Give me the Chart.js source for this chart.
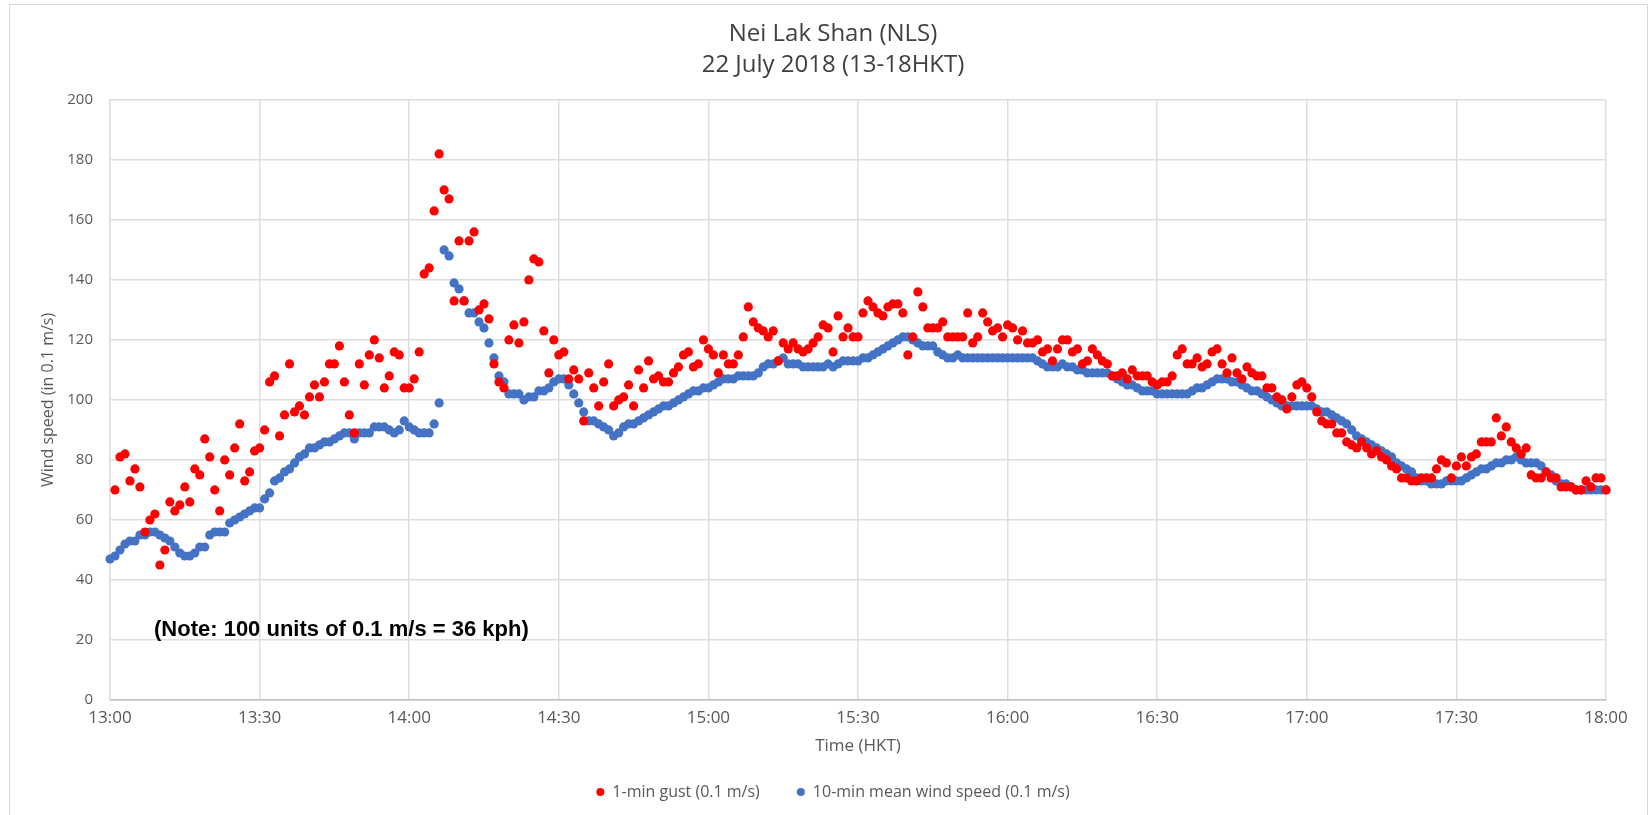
<!DOCTYPE html>
<html>
<head>
<meta charset="utf-8">
<title>Nei Lak Shan (NLS) wind</title>
<script src="https://cdn.jsdelivr.net/npm/chart.js@4.4.1/dist/chart.umd.min.js"></script>
<style>
  html, body { margin: 0; padding: 0; background: #fff; }
  #wrap { position: relative; width: 1652px; height: 815px; }
</style>
</head>
<body>
<div id="wrap"><canvas id="windChart"></canvas></div>
<script>
const TITLE_LINES = ['Nei Lak Shan (NLS)', '22 July 2018 (13-18HKT)'];
const NOTE_TEXT = '(Note: 100 units of 0.1 m/s = 36 kph)';
const TIME_LABELS = ['13:00','13:30','14:00','14:30','15:00','15:30','16:00','16:30','17:00','17:30','18:00'];

// minutes after 13:00 of the first reading in each list (one reading per minute)
const GUST_START = 1;
const MEAN_START = 0;

// 1-min gust, 0.1 m/s
const gustValues = [
  70,81,82,73,77,71,56,60,62,45,
  50,66,63,65,71,66,77,75,87,81,
  70,63,80,75,84,92,73,76,83,84,
  90,106,108,88,95,112,96,98,95,101,
  105,101,106,112,112,118,106,95,89,112,
  105,115,120,114,104,108,116,115,104,104,
  107,116,142,144,163,182,170,167,133,153,
  133,153,156,130,132,127,112,106,104,120,
  125,119,126,140,147,146,123,109,120,115,
  116,107,110,107,93,109,104,98,106,112,
  98,100,101,105,98,110,104,113,107,108,
  106,106,109,111,115,116,111,112,120,117,
  115,109,115,112,112,115,121,131,126,124,
  123,121,123,113,119,117,119,117,116,117,
  119,121,125,124,116,128,121,124,121,121,
  129,133,131,129,128,131,132,132,129,115,
  121,136,131,124,124,124,126,121,121,121,
  121,129,119,121,129,126,123,124,121,125,
  124,120,123,119,119,120,116,117,113,117,
  120,120,116,117,112,113,117,115,113,112,
  108,108,109,107,110,108,108,108,106,105,
  106,106,108,115,117,112,112,114,111,112,
  116,117,112,109,114,109,107,111,109,108,
  108,104,104,101,100,97,101,105,106,104,
  101,96,93,92,92,89,89,86,85,84,
  86,84,82,83,81,80,78,77,74,74,
  73,73,74,74,74,77,80,79,74,78,
  81,78,81,82,86,86,86,94,88,91,
  86,84,82,84,75,74,74,76,74,74,
  71,71,71,70,70,73,71,74,74,70
];

// 10-min mean wind speed, 0.1 m/s
const meanValues = [
  47,48,50,52,53,53,55,55,56,56,
  55,54,53,51,49,48,48,49,51,51,
  55,56,56,56,59,60,61,62,63,64,
  64,67,69,73,74,76,77,79,81,82,
  84,84,85,86,86,87,88,89,89,87,
  89,89,89,91,91,91,90,89,90,93,
  91,90,89,89,89,92,99,150,148,139,
  137,133,129,129,126,124,119,114,108,106,
  102,102,102,100,101,101,103,103,104,106,
  107,107,105,102,99,96,93,93,92,91,
  90,88,89,91,92,92,93,94,95,96,
  97,98,98,99,100,101,102,103,103,104,
  104,105,106,107,107,107,108,108,108,108,
  109,111,112,112,113,114,112,112,112,111,
  111,111,111,111,112,111,112,113,113,113,
  113,114,114,115,116,117,118,119,120,121,
  121,120,119,118,118,118,116,115,114,114,
  115,114,114,114,114,114,114,114,114,114,
  114,114,114,114,114,114,113,112,111,111,
  111,112,111,111,110,110,109,109,109,109,
  109,108,107,106,105,105,104,103,103,103,
  102,102,102,102,102,102,102,103,104,104,
  105,106,107,107,107,106,106,105,104,103,
  103,102,101,100,99,98,98,98,98,98,
  98,98,97,96,96,95,94,93,92,90,
  88,87,86,85,84,83,82,81,79,78,
  77,76,74,73,73,72,72,72,73,73,
  73,73,74,75,76,77,77,78,79,79,
  80,80,81,80,79,79,79,78,76,75,
  73,72,72,71,70,70,70,70,70,70,
  70
];

const toPoints = (vals, start) => vals.map((v, i) => ({x: start + i, y: v}));

const FONT = "'Open Sans', 'DejaVu Sans', sans-serif";
const GREY = '#595959';

// frame around the chart and the bold note inside the plot
const extras = {
  id: 'extras',
  beforeDraw(chart){
    const c = chart.ctx;
    c.save();
    c.fillStyle = '#fff';
    c.fillRect(0, 0, chart.width, chart.height);
    c.strokeStyle = '#d9d9d9';
    c.lineWidth = 1;
    c.strokeRect(9.5, 4.5, chart.width - 14, chart.height + 10);
    c.restore();
  },
  afterDraw(chart){
    const c = chart.ctx;
    const area = chart.chartArea;
    const y = chart.scales.y.getPixelForValue(23.3);
    c.save();
    c.font = "bold 22px 'Liberation Sans', Arial, sans-serif";
    c.fillStyle = '#000';
    c.textAlign = 'left';
    c.textBaseline = 'middle';
    c.fillText(NOTE_TEXT, area.left + 44, y);
    c.restore();
  }
};

new Chart(document.getElementById('windChart'), {
  type: 'scatter',
  data: {
    datasets: [
      {
        label: '1-min gust (0.1 m/s)',
        data: toPoints(gustValues, GUST_START),
        backgroundColor: '#ff0000',
        borderColor: '#ff0000',
        borderWidth: 0,
        pointRadius: 4.6,
        pointStyle: 'circle',
        clip: false
      },
      {
        label: '10-min mean wind speed (0.1 m/s)',
        data: toPoints(meanValues, MEAN_START),
        backgroundColor: '#4472c4',
        borderColor: '#4472c4',
        borderWidth: 0,
        pointRadius: 4.6,
        pointStyle: 'circle',
        clip: false
      }
    ]
  },
  options: {
    responsive: true,
    maintainAspectRatio: false,
    animation: false,
    events: [],
    layout: { padding: { left: 60, right: 46, top: 0, bottom: 5 } },
    scales: {
      x: {
        type: 'linear',
        min: 0,
        max: 300,
        afterFit: s => { s.height = 47; },
        ticks: {
          stepSize: 30,
          padding: 8,
          color: GREY,
          font: { family: FONT, size: 17 },
          callback: v => TIME_LABELS[v / 30]
        },
        grid: { color: '#dedede', lineWidth: 1.5, drawTicks: false },
        border: { color: '#bfbfbf', width: 1.5 },
        title: {
          display: true,
          text: 'Time (HKT)',
          color: GREY,
          font: { family: FONT, size: 17 },
          padding: { top: 0, bottom: -9 }
        }
      },
      y: {
        min: 0,
        max: 200,
        afterFit: s => { s.width = 50; },
        ticks: {
          stepSize: 20,
          padding: 17,
          color: GREY,
          font: { family: FONT, size: 15 }
        },
        grid: { color: '#dedede', lineWidth: 1.5, drawTicks: false },
        border: { color: '#dedede', width: 1.5 },
        title: {
          display: true,
          text: 'Wind speed (in 0.1 m/s)',
          color: GREY,
          font: { family: FONT, size: 16 },
          padding: { top: -21.6, bottom: 0 }
        }
      }
    },
    plugins: {
      title: {
        display: true,
        text: TITLE_LINES,
        color: '#404040',
        font: { family: FONT, size: 24, weight: 'normal', lineHeight: 1.29 },
        padding: { top: 18.5, bottom: 19.5 }
      },
      legend: {
        position: 'bottom',
        labels: {
          usePointStyle: true,
          boxWidth: 8,
          boxHeight: 5.66,
          padding: 37,
          color: GREY,
          font: { family: FONT, size: 16 }
        }
      },
      tooltip: { enabled: false }
    }
  },
  plugins: [extras]
});
</script>
</body>
</html>
